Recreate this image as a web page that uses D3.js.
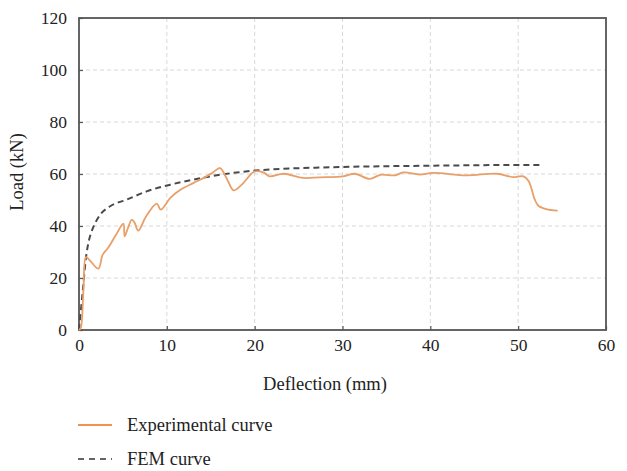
<!DOCTYPE html>
<html>
<head>
<meta charset="utf-8">
<script src="https://cdn.jsdelivr.net/npm/d3@7"></script>
<style>
  body { margin: 0; background: #fff; }
  svg { display: block; }
  text { font-family: "Liberation Serif", "DejaVu Serif", serif; fill: #222; }
</style>
</head>
<body>
<svg id="chart" width="627" height="471"></svg>
<script>
// Experimental curve (deflection mm, load kN)
var expX = [0, 0.2, 0.5, 0.8, 1.3, 2.2, 2.7, 3.3, 4.2, 5.05, 5.2, 5.6, 6.0, 6.3, 6.75, 7.6, 8.85, 9.3, 10.4, 11.5,
  13, 14.2, 15.2, 16.05, 16.4, 17.0, 17.6, 18.5, 20.0, 21.0, 21.7, 23.3, 25.5, 27.4, 30.1, 31.4, 33.1,
  34.3, 36, 36.9, 38.8, 40.3, 44.1, 47.6, 49.4, 50.6, 51.2, 51.9, 52.3, 53.2, 54.5];
var expY = [0, 0.8, 15, 28, 26.5, 23.6, 29, 31.5, 36.5, 40.9, 36, 39.5, 42.4, 41.5, 38.2, 43.5, 48.6, 46.3, 50.8, 53.8,
  56.5, 58.5, 60.5, 62.3, 61, 57, 53.7, 55.8, 61, 60.6, 59.1, 60.1, 58.5, 58.7, 59.1, 60.1, 58.1,
  59.7, 59.5, 60.6, 59.8, 60.4, 59.5, 60.1, 58.8, 59.1, 57.2, 50.1, 47.8, 46.5, 45.9];

// FEM curve
var femX = [0, 0.4, 0.8, 1.1, 1.45, 1.9, 2.4, 3.5, 5.4, 7.7, 10.4, 13, 16.05, 20, 23.3, 27.4, 33, 40.3, 46, 52.5];
var femY = [0, 14, 28, 34, 38, 41.5, 44.3, 47.5, 50.1, 53.3, 55.9, 57.8, 59.7, 61.3, 62, 62.5, 62.9, 63.2, 63.4, 63.5];

var xTicks = [0, 10, 20, 30, 40, 50, 60];
var yTicks = [0, 20, 40, 60, 80, 100, 120];

var legendLabels = ["Experimental curve", "FEM curve"];

var svg = d3.select("#chart");
var margin = { left: 79, right: 21, top: 18, bottom: 141 };
var W = 627, H = 471;

var x = d3.scaleLinear().domain([0, 60]).range([margin.left, W - margin.right]);
var y = d3.scaleLinear().domain([0, 120]).range([H - margin.bottom, margin.top]);

// grid
var grid = svg.append("g");
grid.selectAll(".gx").data(xTicks.slice(1, -1)).enter().append("line")
  .attr("x1", function(d) { return x(d); }).attr("x2", function(d) { return x(d); })
  .attr("y1", y(0)).attr("y2", y(120))
  .attr("stroke", "#d8d8d8").attr("stroke-width", 1).attr("stroke-dasharray", "4,3");
grid.selectAll(".gy").data(yTicks.slice(1, -1)).enter().append("line")
  .attr("y1", function(d) { return y(d); }).attr("y2", function(d) { return y(d); })
  .attr("x1", x(0)).attr("x2", x(60))
  .attr("stroke", "#d8d8d8").attr("stroke-width", 1).attr("stroke-dasharray", "4,3");

// axes
var xAxis = svg.append("g").attr("transform", "translate(0," + y(0) + ")")
  .call(d3.axisBottom(x).tickValues(xTicks).tickSizeInner(-4).tickSizeOuter(0).tickPadding(9));
var yAxis = svg.append("g").attr("transform", "translate(" + x(0) + ",0)")
  .call(d3.axisLeft(y).tickValues(yTicks).tickSizeInner(-4).tickSizeOuter(0).tickPadding(12));
[xAxis, yAxis].forEach(function(a) {
  a.select(".domain").remove();
  a.selectAll(".tick line").attr("stroke", "#555").attr("stroke-width", 1.2);
  a.selectAll(".tick text").style("font-family", "'Liberation Serif', serif").style("font-size", "17.5px").attr("fill", "#222");
});

// frame
svg.append("rect")
  .attr("x", x(0)).attr("y", y(120))
  .attr("width", x(60) - x(0)).attr("height", y(0) - y(120))
  .attr("fill", "none").attr("stroke", "#555").attr("stroke-width", 1.8);

// curves
var expData = expX.map(function(d, i) { return [d, expY[i]]; });
var femData = femX.map(function(d, i) { return [d, femY[i]]; });

var lineExp = d3.line().x(function(d) { return x(d[0]); }).y(function(d) { return y(d[1]); })
  .curve(d3.curveCatmullRom.alpha(0.5));
var lineFem = d3.line().x(function(d) { return x(d[0]); }).y(function(d) { return y(d[1]); })
  .curve(d3.curveMonotoneX);

svg.append("path").datum(femData).attr("d", lineFem)
  .attr("fill", "none").attr("stroke", "#4a4a4a").attr("stroke-width", 2).attr("stroke-dasharray", "6,4");
svg.append("path").datum(expData).attr("d", lineExp)
  .attr("fill", "none").attr("stroke", "#e99f68").attr("stroke-width", 1.8);

// axis titles
svg.append("text").attr("x", 325).attr("y", 390)
  .attr("text-anchor", "middle").style("font-size", "18.5px").text("Deflection (mm)");
svg.append("text").attr("transform", "translate(23,172) rotate(-90)")
  .attr("text-anchor", "middle").style("font-size", "18.5px").text("Load (kN)");

// legend
var legend = svg.append("g");
legend.append("line").attr("x1", 78).attr("x2", 112).attr("y1", 425).attr("y2", 425)
  .attr("stroke", "#ef9350").attr("stroke-width", 2);
legend.append("line").attr("x1", 78).attr("x2", 112).attr("y1", 459).attr("y2", 459)
  .attr("stroke", "#333").attr("stroke-width", 1.5).attr("stroke-dasharray", "6,5");
legend.selectAll(".lt").data(legendLabels).enter().append("text")
  .attr("x", 127).attr("y", function(d, i) { return 431 + i * 34; })
  .style("font-size", "18.5px").text(function(d) { return d; });
</script>
</body>
</html>
